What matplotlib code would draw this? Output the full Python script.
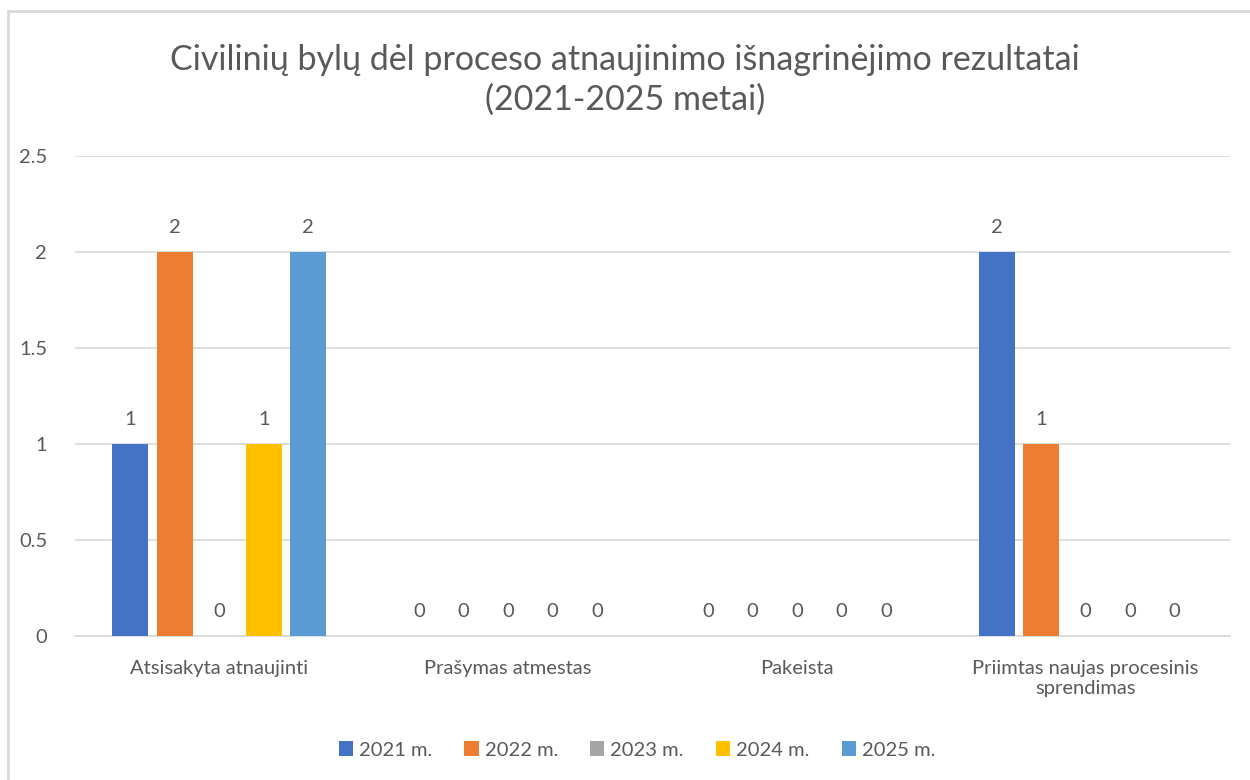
import numpy as np
import matplotlib.pyplot as plt
from matplotlib.patches import Rectangle

plt.rcParams["font.family"] = ["Lato", "DejaVu Sans"]

categories = ["Atsisakyta atnaujinti", "Prašymas atmestas", "Pakeista",
              "Priimtas naujas procesinis\nsprendimas"]
years = ["2021 m.", "2022 m.", "2023 m.", "2024 m.", "2025 m."]
values = {
    "2021 m.": [1, 0, 0, 2],
    "2022 m.": [2, 0, 0, 1],
    "2023 m.": [0, 0, 0, 0],
    "2024 m.": [1, 0, 0, 0],
    "2025 m.": [2, 0, 0, 0],
}
colors = ["#4472C4", "#ED7D31", "#A5A5A5", "#FFC000", "#5B9BD5"]
text_color = "#595959"

fig = plt.figure(figsize=(12.5, 7.8), dpi=100)
ax = fig.add_axes([75 / 1250, 1 - 636 / 780, 1155 / 1250, 480 / 780])

# chart border
fig.patches.append(Rectangle((8 / 1250, -0.1), 1.2, 1.1 - 11 / 780,
                             transform=fig.transFigure, fill=False,
                             edgecolor="#d9d9d9", linewidth=2))

x = np.arange(len(categories))
step = 0.154
width = 0.125
for i, (year, color) in enumerate(zip(years, colors)):
    pos = x + (i - 2) * step
    ax.bar(pos, values[year], width=width, color=color, label=year, zorder=3)
    for xp, v in zip(pos, values[year]):
        ax.text(xp, v + 0.085, str(v), ha="center", va="bottom",
                fontsize=14.5, color=text_color)

ax.set_xlim(-0.5, 3.5)
ax.set_ylim(0, 2.5)
ax.set_yticks([0, 0.5, 1, 1.5, 2, 2.5])
ax.set_yticklabels(["0", "0.5", "1", "1.5", "2", "2.5"])
ax.set_xticks(x)
ax.set_xticklabels(categories, linespacing=1.25)
ax.tick_params(axis="both", length=0, labelsize=14.5, colors=text_color)
ax.tick_params(axis="y", pad=20)
ax.tick_params(axis="x", pad=17)
ax.grid(axis="y", color="#d9d9d9", linewidth=1.2, zorder=0)
for s in ["top", "right", "left"]:
    ax.spines[s].set_visible(False)
ax.spines["bottom"].set_color("#d9d9d9")
ax.spines["bottom"].set_linewidth(1.2)

fig.text(0.5, 1 - 80 / 780,
         "Civilinių bylų dėl proceso atnaujinimo išnagrinėjimo rezultatai\n(2021-2025 metai)",
         ha="center", va="center", fontsize=24.5, color=text_color, linespacing=1.3)

ax.legend(loc="center", bbox_to_anchor=((637 - 75) / 1155, -(750 - 636) / 480),
          ncol=5, frameon=False, fontsize=14.5, labelcolor=text_color,
          handlelength=0.7, handleheight=0.7, handletextpad=0.3, columnspacing=1.6)

fig.savefig("out.png", dpi=100, facecolor="white")
